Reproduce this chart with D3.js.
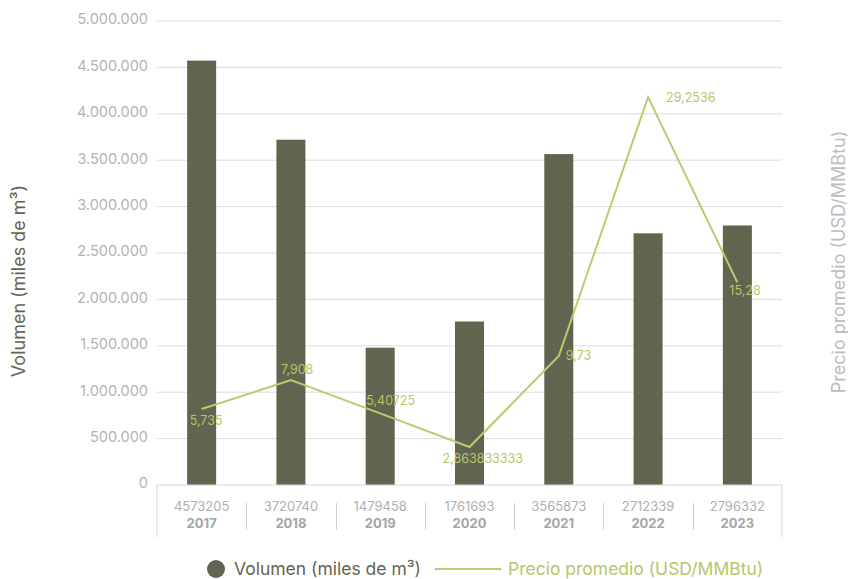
<!DOCTYPE html>
<html>
<head>
<meta charset="utf-8">
<script src="https://cdn.jsdelivr.net/npm/d3@7"></script>
<style>
  html, body { margin: 0; padding: 0; background: #fff; }
  svg { display: block; font-family: Inter, "Open Sans", sans-serif; }
</style>
</head>
<body>
<svg id="chart" width="848" height="579"></svg>
<script>
// Years shown along the category axis
const years = ["2017", "2018", "2019", "2020", "2021", "2022", "2023"];
// Volume in thousand m³ (bars)
const volumen = [4573205, 3720740, 1479458, 1761693, 3565873, 2712339, 2796332];
// Average price in USD/MMBtu (line)
const precio = [5.735, 7.908, 5.40725, 2.863833333, 9.73, 29.2536, 15.28];
// Left axis ticks
const volumenTicks = [0, 500000, 1000000, 1500000, 2000000, 2500000, 3000000, 3500000, 4000000, 4500000, 5000000];

// Label nudges for the price labels (dx, dy from the point)
const labelNudge = [[-12, 16], [-10, -6], [-14, -8], [-27, 16], [7, 4], [18, 5], [-8, 13]];

const colors = {
  bar: "#61644f",
  line: "#bccb6f",
  lineText: "#b7c669",
  tick: "#b3b3b3",
  grid: "#dcdcdc",
  tableText: "#b0b0b0",
  tableYear: "#a5a5a5",
  leftTitle: "#63664f",
  rightTitle: "#bdbdbd"
};

const svg = d3.select("#chart");
const plot = { left: 157, right: 782, top: 21, bottom: 485 };

const x = d3.scaleBand().domain(years).range([plot.left, plot.right]).padding(0);
const yVol = d3.scaleLinear().domain([0, 5000000]).range([plot.bottom, plot.top]);
const yPrecio = d3.scaleLinear().domain([0, 35]).range([plot.bottom, plot.top]);

const fmtVol = v => d3.format(",")(v).replace(/,/g, ".");
const fmtPrecio = v => String(v).replace(".", ",");

// Horizontal grid lines
svg.append("g")
  .selectAll("line")
  .data(volumenTicks.filter(t => t > 0))
  .join("line")
  .attr("x1", plot.left).attr("x2", plot.right)
  .attr("y1", d => yVol(d)).attr("y2", d => yVol(d))
  .attr("stroke", colors.grid).attr("stroke-width", 1);

// Left axis labels
const yAxis = d3.axisLeft(yVol).tickValues(volumenTicks).tickFormat(fmtVol).tickSize(0).tickPadding(0);
const gy = svg.append("g").attr("transform", `translate(${plot.left - 9},0)`).call(yAxis);
gy.select(".domain").remove();
gy.selectAll("text")
  .attr("fill", colors.tick)
  .attr("font-size", 14.5)
  .attr("dy", "0.2em")
  .attr("font-family", "Inter, sans-serif");

// Bars
const barW = 29;
svg.append("g")
  .selectAll("rect")
  .data(volumen)
  .join("rect")
  .attr("x", (d, i) => x(years[i]) + x.bandwidth() / 2 - barW / 2)
  .attr("y", d => yVol(d))
  .attr("width", barW)
  .attr("height", d => yVol(0) - yVol(d))
  .attr("fill", colors.bar);

// Data table under the axis
const table = svg.append("g");
const tableBottom = 537;
table.append("path")
  .attr("d", `M${plot.left},${tableBottom}V${plot.bottom}H${plot.right}V${tableBottom}`)
  .attr("fill", "none").attr("stroke", "#d6d6d6").attr("stroke-width", 1);
table.selectAll("line.sep")
  .data(years.slice(1))
  .join("line")
  .attr("class", "sep")
  .attr("x1", d => Math.round(x(d)) + 0.5).attr("x2", d => Math.round(x(d)) + 0.5)
  .attr("y1", 503).attr("y2", 530)
  .attr("stroke", "#cfcfcf");
table.selectAll("text.val")
  .data(volumen)
  .join("text")
  .attr("class", "val")
  .attr("x", (d, i) => x(years[i]) + x.bandwidth() / 2)
  .attr("y", 511)
  .attr("text-anchor", "middle")
  .attr("font-size", 13)
  .attr("fill", colors.tableText)
  .text(d => d);
table.selectAll("text.yr")
  .data(years)
  .join("text")
  .attr("class", "yr")
  .attr("x", d => x(d) + x.bandwidth() / 2)
  .attr("y", 528)
  .attr("text-anchor", "middle")
  .attr("font-size", 13)
  .attr("font-weight", 700)
  .attr("fill", colors.tableYear)
  .text(d => d);

// Price line
const line = d3.line()
  .x((d, i) => x(years[i]) + x.bandwidth() / 2)
  .y(d => yPrecio(d));
svg.append("path")
  .datum(precio)
  .attr("d", line)
  .attr("fill", "none")
  .attr("stroke", colors.line)
  .attr("stroke-width", 2);

// Price labels
svg.append("g")
  .selectAll("text")
  .data(precio)
  .join("text")
  .attr("x", (d, i) => x(years[i]) + x.bandwidth() / 2 + labelNudge[i][0])
  .attr("y", (d, i) => yPrecio(d) + labelNudge[i][1])
  .attr("font-size", 12.5)
  .attr("fill", colors.lineText)
  .text(d => fmtPrecio(d));

// Axis titles
svg.append("text")
  .attr("transform", "translate(25,281) rotate(-90)")
  .attr("text-anchor", "middle")
  .attr("font-size", 18)
  .attr("fill", colors.leftTitle)
  .text("Volumen (miles de m³)");
svg.append("text")
  .attr("transform", "translate(845,262) rotate(-90)")
  .attr("text-anchor", "middle")
  .attr("font-size", 18)
  .attr("fill", colors.rightTitle)
  .text("Precio promedio (USD/MMBtu)");

// Legend
const legend = svg.append("g");
legend.append("circle").attr("cx", 216).attr("cy", 569).attr("r", 9).attr("fill", colors.bar);
legend.append("text").attr("x", 234).attr("y", 575).attr("font-size", 17.5)
  .attr("fill", colors.leftTitle).text("Volumen (miles de m³)");
legend.append("line").attr("x1", 435).attr("x2", 501).attr("y1", 569).attr("y2", 569)
  .attr("stroke", colors.line).attr("stroke-width", 2);
legend.append("text").attr("x", 508).attr("y", 575).attr("font-size", 17.5)
  .attr("fill", colors.lineText).text("Precio promedio (USD/MMBtu)");
</script>
</body>
</html>
